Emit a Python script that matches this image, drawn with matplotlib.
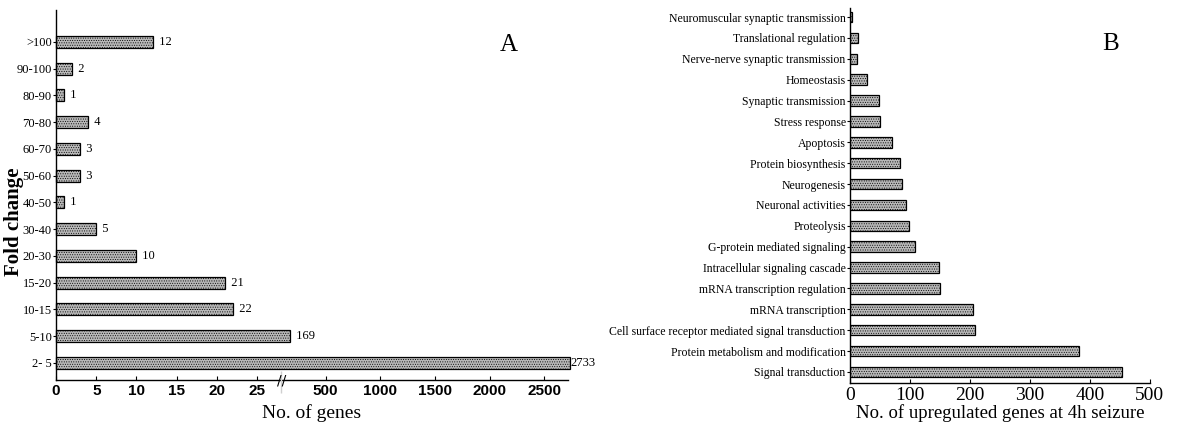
import numpy as np
import matplotlib
matplotlib.use("Agg")
import matplotlib.pyplot as plt
from matplotlib.transforms import blended_transform_factory

# Panel A: number of genes per fold-change bin
fold_bins = ['2- 5', '5-10', '10-15', '15-20', '20-30', '30-40', '40-50',
             '50-60', '60-70', '70-80', '80-90', '90-100', '>100']
gene_counts = [2733, 169, 22, 21, 10, 5, 1, 3, 3, 4, 1, 2, 12]
a_ticks = [0, 5, 10, 15, 20, 25, 500, 1000, 1500, 2000, 2500]

# Panel B: functional categories of upregulated genes
categories = ['Signal transduction', 'Protein metabolism and modification',
              'Cell surface receptor mediated signal transduction',
              'mRNA transcription', 'mRNA transcription regulation',
              'Intracellular signaling cascade', 'G-protein mediated signaling',
              'Proteolysis', 'Neuronal activities', 'Neurogenesis',
              'Protein biosynthesis', 'Apoptosis', 'Stress response',
              'Synaptic transmission', 'Homeostasis',
              'Nerve-nerve synaptic transmission', 'Translational regulation',
              'Neuromuscular synaptic transmission']
upregulated = [453, 382, 209, 205, 151, 149, 109, 98, 94, 87, 84, 71, 51, 49,
               28, 12, 14, 4]
b_ticks = [0, 100, 200, 300, 400, 500]

serif = ['Liberation Serif', 'DejaVu Serif']
narrow = ['Liberation Sans Narrow', 'Liberation Sans', 'DejaVu Sans']
plt.rcParams['hatch.color'] = '#808080'
plt.rcParams['hatch.linewidth'] = 0.4
bar_kw = dict(color='#b8b8b8', edgecolor='black', linewidth=0.9,
              hatch='.......')

# broken x axis: 0-28 linear, then compressed from ~93 upwards
BREAK, RESUME, K = 28.0, 93.0, 0.0136


def fwd(v):
    v = np.asarray(v, dtype=float)
    return np.where(v <= BREAK, v, BREAK + np.maximum(v - RESUME, 0) * K)


def inv(f):
    f = np.asarray(f, dtype=float)
    return np.where(f <= BREAK, f, RESUME + (f - BREAK) / K)


fig = plt.figure(figsize=(11.87, 4.38), dpi=100)

# ---- A ----
axA = fig.add_axes([0.0472, 0.1324, 0.4313, 0.845])
axA.set_xscale('function', functions=(fwd, inv))
ya = np.arange(len(fold_bins))
axA.barh(ya, gene_counts, height=0.45, clip_on=False, **bar_kw)
axA.set_xlim(0, 2715)
axA.set_ylim(-0.64, 13.2)
axA.set_xticks(a_ticks)
axA.set_xticklabels([str(t) for t in a_ticks], family=narrow,
                    fontweight='bold', fontsize=11)
axA.set_yticks(ya)
axA.set_yticklabels(fold_bins, family=serif, fontsize=9)
for y, v in zip(ya, gene_counts):
    label = str(v) if v > 2000 else '  ' + str(v)
    axA.text(v, y, label, va='center', ha='left', family=serif, fontsize=9)
axA.set_xlabel('No. of genes', family=serif, fontsize=14, labelpad=4)
axA.set_ylabel('Fold change', family=serif, fontsize=15, fontweight='bold',
               va='center')
axA.yaxis.set_label_coords(-0.082, 0.427)
axA.text(0.885, 0.905, 'A', transform=axA.transAxes, family=serif,
         fontsize=18, ha='center', va='center')

# break mark on the x axis
tr = blended_transform_factory(axA.transData, axA.transAxes)
axA.add_patch(plt.Rectangle((BREAK, -0.035), 50, 0.06, transform=tr,
                            color='#cfcfcf', clip_on=False, zorder=3))
axA.text(BREAK + 2, 0.0, '//', transform=tr, ha='center', va='center',
         fontsize=10, clip_on=False, zorder=4)

# ---- B ----
axB = fig.add_axes([0.716, 0.1256, 0.2527, 0.856])
yb = np.arange(len(categories))
axB.barh(yb, upregulated, height=0.5, **bar_kw)
axB.set_xlim(0, 500)
axB.set_ylim(-0.53, 17.43)
axB.set_xticks(b_ticks)
axB.set_xticklabels([str(t) for t in b_ticks], family=serif, fontsize=14)
axB.set_yticks(yb)
axB.set_yticklabels(categories, family=serif, fontsize=8.5)
axB.set_xlabel('No. of upregulated genes at 4h seizure', family=serif,
               fontsize=13.5, labelpad=0)
axB.text(0.87, 0.905, 'B', transform=axB.transAxes, family=serif,
         fontsize=18, ha='center', va='center')

for ax in (axA, axB):
    for s in ('top', 'right'):
        ax.spines[s].set_visible(False)
    ax.spines['left'].set_linewidth(1.0)
    ax.spines['bottom'].set_linewidth(1.0)
    ax.tick_params(axis='y', length=2, width=0.8, pad=1)
    ax.tick_params(axis='x', length=3, width=0.8, direction='in', pad=3)

fig.savefig('out.png', dpi=100)
